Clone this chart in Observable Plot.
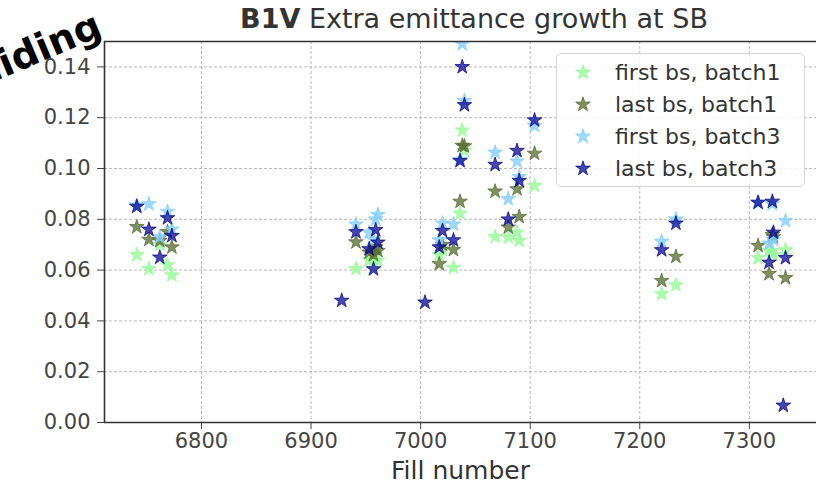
<!DOCTYPE html>
<html>
<head>
<meta charset="utf-8">
<script src="https://cdn.jsdelivr.net/npm/d3@7"></script>
<script src="https://cdn.jsdelivr.net/npm/@observablehq/plot@0.6"></script>
<style>
  body { margin: 0; background: #fff; }
  #chart { position: relative; width: 816px; height: 485px; overflow: hidden; font-family: "DejaVu Sans", sans-serif; }
  #chart .title { position: absolute; top: 3px; left: 0; width: 948px; text-align: center; font-size: 27px; color: #333; white-space: nowrap; }
  #chart .legend { position: absolute; left: 556px; top: 53px; width: 249px; height: 134px; box-sizing: border-box;
    border: 1px solid #d6d6d6; border-radius: 5px; background: rgba(255,255,255,0.85); }
  #chart .legend .row { position: absolute; left: 0; height: 32px; display: flex; align-items: center; font-size: 22px; color: #333; white-space: nowrap; }
  #chart .legend svg { margin-left: 17px; margin-right: 23px; }
  #chart .overlay { position: absolute; left: 0; top: 0; pointer-events: none; }
</style>
</head>
<body>
<div id="chart"></div>
<script>
// LHC fill numbers and the extra emittance growth (B1V) during stable beams
const fills = [6741, 6752, 6762, 6769, 6773, 6928, 6941, 6953, 6957, 6959, 6961, 7004, 7017, 7020, 7030,
               7036, 7038, 7040, 7068, 7080, 7088, 7090, 7104, 7220, 7233, 7308, 7318, 7321, 7322, 7331, 7333];

const firstBsBatch1 = [0.066, 0.0605, 0.070, 0.062, 0.058, null, 0.0605, 0.064, 0.0637, 0.066, 0.0637, null, 0.066, 0.068, 0.061,
                       0.0823, 0.115, 0.107, 0.0731, 0.0729, 0.0748, 0.0716, 0.0932, 0.0506, 0.0541, 0.0648, 0.0676, 0.0676, 0.066, null, 0.0679];
const lastBsBatch1  = [0.077, 0.072, 0.0715, 0.075, 0.069, null, 0.071, 0.067, 0.066, 0.069, 0.0676, null, 0.0624, 0.070, 0.068,
                       0.087, 0.109, 0.1088, 0.091, 0.0768, 0.0919, 0.081, 0.1059, 0.0558, 0.0653, 0.0696, 0.0585, 0.0739, 0.073, null, 0.0569];
const firstBsBatch3 = [0.0855, 0.086, 0.073, 0.083, 0.076, null, 0.078, 0.0748, 0.072, 0.080, 0.0818, null, 0.0718, 0.0784, 0.078,
                       0.1035, 0.149, 0.1266, 0.1063, 0.088, 0.1028, 0.0967, 0.1168, 0.0712, 0.080, 0.0865, 0.0705, 0.086, 0.072, null, 0.0794];
const lastBsBatch3  = [0.085, 0.076, 0.065, 0.0805, 0.0735, 0.048, 0.075, 0.0683, 0.0604, 0.0758, 0.0709, 0.0473, 0.069, 0.0755, 0.0718,
                       0.103, 0.140, 0.125, 0.1015, 0.080, 0.107, 0.0952, 0.119, 0.0679, 0.0784, 0.0866, 0.063, 0.087, 0.0748, 0.0067, 0.0648];

const seriesNames = ["first bs, batch1", "last bs, batch1", "first bs, batch3", "last bs, batch3"];
const seriesValues = [firstBsBatch1, lastBsBatch1, firstBsBatch3, lastBsBatch3];
const seriesColors = ["#98fb98", "#556b2f", "#87cefa", "#00008b"];
const seriesAlpha = [0.8, 0.75, 0.8, 0.72];

const xTicks = [6800, 6900, 7000, 7100, 7200, 7300];
const yTicks = [0, 0.02, 0.04, 0.06, 0.08, 0.10, 0.12, 0.14];
const xDomain = [6711.5, 7361.3];
const yDomain = [0, 0.15];
const xLabel = "Fill number";

const rowsFor = (k) => fills
  .map((f, i) => ({fill: f, value: seriesValues[k][i]}))
  .filter(d => d.value != null);

const starMarks = seriesNames.map((name, k) => Plot.dot(rowsFor(k), {
  x: "fill", y: "value", symbol: "star", r: 4.6, clip: true,
  fill: seriesColors[k], fillOpacity: seriesAlpha[k],
  stroke: seriesColors[k], strokeOpacity: seriesAlpha[k], strokeWidth: 1
}));

const plot = Plot.plot({
  width: 816, height: 485,
  marginLeft: 104, marginRight: 0, marginTop: 41, marginBottom: 63,
  style: {fontFamily: "DejaVu Sans, sans-serif", fontSize: "21px", background: "white", overflow: "visible"},
  x: {domain: xDomain},
  y: {domain: yDomain},
  marks: [
    Plot.gridX(xTicks, {stroke: "#b0b0b0", strokeOpacity: 1, strokeWidth: 0.9, strokeDasharray: "3,2"}),
    Plot.gridY(yTicks, {stroke: "#b0b0b0", strokeOpacity: 1, strokeWidth: 0.9, strokeDasharray: "3,2"}),
    Plot.axisX(xTicks, {anchor: "bottom", tickSize: 7, tickPadding: 4, tickFormat: "d", stroke: "#444", fill: "#444", label: null}),
    Plot.axisY(yTicks, {anchor: "left", tickSize: 7, tickPadding: 7, tickFormat: ".2f", stroke: "#444", fill: "#444", label: null}),
    Plot.text([xLabel], {frameAnchor: "bottom", dy: 56, fontSize: 25, fill: "#333"}),
    ...starMarks,
    Plot.ruleX([xDomain[0]], {stroke: "#333", strokeWidth: 1.6}),
    Plot.ruleY([yDomain[0]], {stroke: "#333", strokeWidth: 1.6}),
    Plot.ruleY([yDomain[1]], {stroke: "#333", strokeWidth: 1.6})
  ]
});

const chart = document.getElementById("chart");
chart.appendChild(plot);

// title
const title = document.createElement("div");
title.className = "title";
title.innerHTML = "<b>B1V</b> Extra emittance growth at SB";
chart.appendChild(title);

// legend
const legend = document.createElement("div");
legend.className = "legend";
seriesNames.forEach((name, k) => {
  const row = document.createElement("div");
  row.className = "row";
  row.style.top = (2 + k * 32) + "px";
  const svg = d3.create("svg").attr("width", 18).attr("height", 18);
  svg.append("path")
    .attr("transform", "translate(9,9.5)")
    .attr("d", d3.symbol(d3.symbolStar, Math.PI * 4.6 * 4.6)())
    .attr("fill", seriesColors[k]).attr("fill-opacity", seriesAlpha[k])
    .attr("stroke", seriesColors[k]).attr("stroke-opacity", seriesAlpha[k]);
  row.appendChild(svg.node());
  const label = document.createElement("span");
  label.textContent = name;
  row.appendChild(label);
  legend.appendChild(row);
});
chart.appendChild(legend);

// stamp text across the corner
const overlay = d3.create("svg").attr("class", "overlay").attr("width", 816).attr("height", 485);
overlay.append("text")
  .attr("transform", "translate(104,35) rotate(-23)")
  .attr("text-anchor", "end")
  .attr("font-family", "DejaVu Sans, sans-serif")
  .attr("font-weight", "bold")
  .attr("font-size", 38)
  .attr("fill", "#000")
  .text("Colliding");
chart.appendChild(overlay.node());
</script>
</body>
</html>
